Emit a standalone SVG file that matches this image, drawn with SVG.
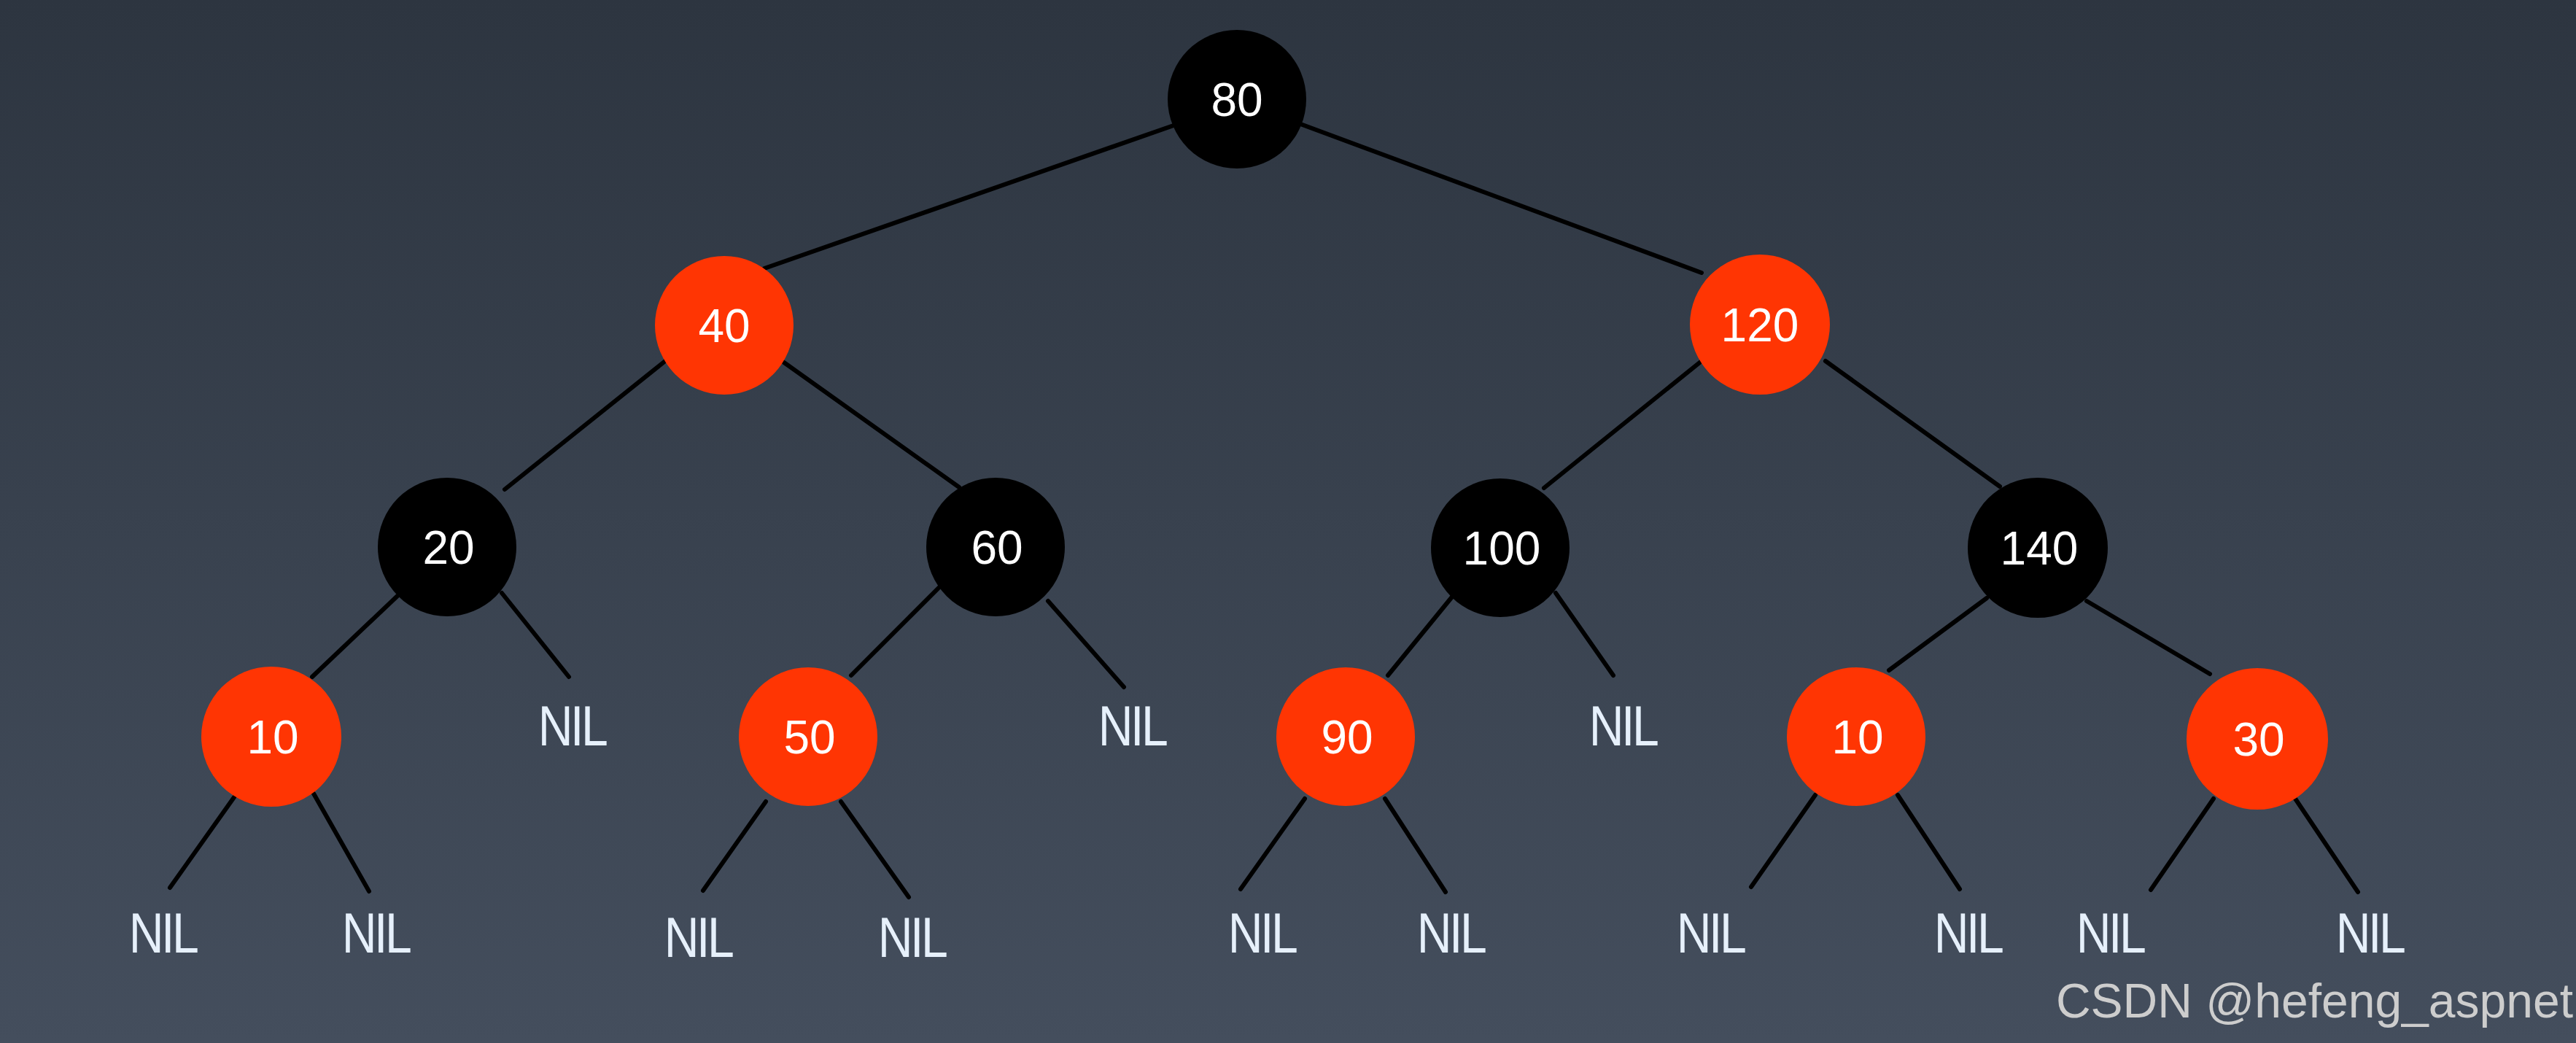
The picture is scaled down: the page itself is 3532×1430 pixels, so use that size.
<svg xmlns="http://www.w3.org/2000/svg" width="3532" height="1430" viewBox="0 0 3532 1430">
<defs>
<linearGradient id="bg" x1="0" y1="0" x2="0" y2="1">
<stop offset="0" stop-color="#2d3540"/>
<stop offset="1" stop-color="#444e5d"/>
</linearGradient>
<style>
.edge{stroke:#000;stroke-width:6;stroke-linecap:round;fill:none}
.red{fill:#ff3503}
.blk{fill:#000}
.num{font-family:"Liberation Sans",Arial,sans-serif;font-size:64px;fill:#fff;text-anchor:middle}
.nil{font-family:"Liberation Sans",Arial,sans-serif;font-size:77px;fill:#e6f0fb;text-anchor:middle;letter-spacing:-4px}
.wm{font-family:"Liberation Sans",Arial,sans-serif;font-size:66px;fill:#cdcdcd;text-anchor:end}
</style>
</defs>
<rect width="3532" height="1430" fill="url(#bg)"/>
<g id="connectors">
<line class="edge" x1="1612" y1="171" x2="1048" y2="368"/>
<line class="edge" x1="1783" y1="170" x2="2333" y2="374"/>
<line class="edge" x1="912" y1="495" x2="692" y2="671"/>
<line class="edge" x1="1075" y1="497" x2="1315" y2="668"/>
<line class="edge" x1="2333" y1="495" x2="2117" y2="669"/>
<line class="edge" x1="2503" y1="495" x2="2742" y2="667"/>
<line class="edge" x1="545" y1="817" x2="428" y2="928"/>
<line class="edge" x1="688" y1="813" x2="780" y2="928"/>
<line class="edge" x1="1292" y1="801" x2="1167" y2="926"/>
<line class="edge" x1="1437" y1="824" x2="1541" y2="942"/>
<line class="edge" x1="1992" y1="817" x2="1903" y2="926"/>
<line class="edge" x1="2133" y1="813" x2="2212" y2="926"/>
<line class="edge" x1="2724" y1="820" x2="2590" y2="919"/>
<line class="edge" x1="2861" y1="824" x2="3030" y2="924"/>
<line class="edge" x1="321" y1="1093" x2="233" y2="1217"/>
<line class="edge" x1="430" y1="1088" x2="506" y2="1222"/>
<line class="edge" x1="1050" y1="1099" x2="964" y2="1221"/>
<line class="edge" x1="1153" y1="1099" x2="1246" y2="1230"/>
<line class="edge" x1="1789" y1="1095" x2="1701" y2="1219"/>
<line class="edge" x1="1899" y1="1095" x2="1982" y2="1223"/>
<line class="edge" x1="2489" y1="1090" x2="2401" y2="1216"/>
<line class="edge" x1="2602" y1="1090" x2="2687" y2="1219"/>
<line class="edge" x1="3035" y1="1095" x2="2949" y2="1220"/>
<line class="edge" x1="3145" y1="1092" x2="3233" y2="1223"/>
</g>
<g id="n80"><circle class="blk" cx="1696" cy="136" r="95"/><text class="num" x="1696" y="159">80</text></g>
<g id="n40"><circle class="red" cx="993" cy="446" r="95"/><text class="num" x="993" y="469">40</text></g>
<g id="n120"><circle class="red" cx="2413" cy="445" r="96"/><text class="num" x="2413" y="468">120</text></g>
<g id="n20"><circle class="blk" cx="613" cy="750" r="95"/><text class="num" x="615" y="773">20</text></g>
<g id="n60"><circle class="blk" cx="1365" cy="750" r="95"/><text class="num" x="1367" y="773">60</text></g>
<g id="n100"><circle class="blk" cx="2057" cy="751" r="95"/><text class="num" x="2059" y="774">100</text></g>
<g id="n140"><circle class="blk" cx="2794" cy="751" r="96"/><text class="num" x="2796" y="774">140</text></g>
<g id="n10a"><circle class="red" cx="372" cy="1010" r="96"/><text class="num" x="374" y="1033">10</text></g>
<g id="n50"><circle class="red" cx="1108" cy="1010" r="95"/><text class="num" x="1110" y="1033">50</text></g>
<g id="n90"><circle class="red" cx="1845" cy="1010" r="95"/><text class="num" x="1847" y="1033">90</text></g>
<g id="n10b"><circle class="red" cx="2545" cy="1010" r="95"/><text class="num" x="2547" y="1033">10</text></g>
<g id="n30"><circle class="red" cx="3095" cy="1013" r="97"/><text class="num" x="3097" y="1036">30</text></g>
<g id="nils">
<text class="nil" transform="translate(784 1022) scale(0.86 1)">NIL</text>
<text class="nil" transform="translate(1552 1022) scale(0.86 1)">NIL</text>
<text class="nil" transform="translate(2225 1022) scale(0.86 1)">NIL</text>
<text class="nil" transform="translate(223 1306) scale(0.86 1)">NIL</text>
<text class="nil" transform="translate(515 1306) scale(0.86 1)">NIL</text>
<text class="nil" transform="translate(957 1312) scale(0.86 1)">NIL</text>
<text class="nil" transform="translate(1250 1312) scale(0.86 1)">NIL</text>
<text class="nil" transform="translate(1730 1306) scale(0.86 1)">NIL</text>
<text class="nil" transform="translate(1989 1306) scale(0.86 1)">NIL</text>
<text class="nil" transform="translate(2345 1306) scale(0.86 1)">NIL</text>
<text class="nil" transform="translate(2698 1306) scale(0.86 1)">NIL</text>
<text class="nil" transform="translate(2893 1306) scale(0.86 1)">NIL</text>
<text class="nil" transform="translate(3249 1306) scale(0.86 1)">NIL</text>
</g>
<text class="wm" x="3528" y="1395">CSDN @hefeng_aspnet</text>
</svg>
